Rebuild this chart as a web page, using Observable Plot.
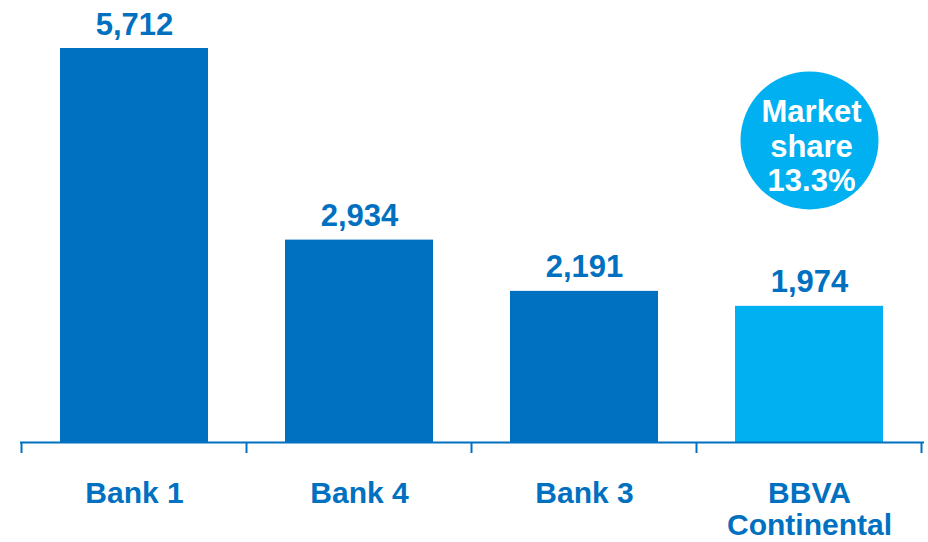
<!DOCTYPE html>
<html><head><meta charset="utf-8">
<script src="https://cdn.jsdelivr.net/npm/d3@7"></script>
<script src="https://cdn.jsdelivr.net/npm/@observablehq/plot@0.6"></script>
<style>body{margin:0;background:#fff}</style>
</head><body><div id="chart"></div>
<script>
const categories = ["Bank 1", "Bank 4", "Bank 3", "BBVA Continental"];
const values = [5712, 2934, 2191, 1974];
const tickLabels = ["Bank 1", "Bank 4", "Bank 3", "BBVA\nContinental"];
const highlight = [false, false, false, true];
const bubbleCategory = "BBVA Continental";
const bubbleValue = 4380;
const bubbleText = "Market\nshare\n13.3%";

const data = categories.map((c, i) => ({category: c, value: values[i], label: tickLabels[i], highlight: highlight[i]}));
const bubble = [{category: bubbleCategory, value: bubbleValue, text: bubbleText}];

const blue = "#0070C0", light = "#00B0F0";

const edgeTicks = (index, scales) => {
  const x = scales.x, y = scales.y;
  const starts = categories.map(c => x(c));
  const step = starts[1] - starts[0];
  const bw = x.bandwidth ? x.bandwidth() : step * 0.66;
  const off = (step - bw) / 2;
  const edges = starts.map(s => s - off).concat([starts[starts.length - 1] + bw + off]);
  const y0 = y(0);
  const g = d3.create("svg:g");
  g.selectAll("line").data(edges).join("line")
    .attr("x1", d => d).attr("x2", d => d)
    .attr("y1", y0).attr("y2", y0 + 11)
    .attr("stroke", blue).attr("stroke-width", 2);
  return g.node();
};

const chart = Plot.plot({
  width: 928, height: 542,
  marginLeft: 20, marginRight: 4, marginTop: 0, marginBottom: 0,
  style: {fontFamily: "'Liberation Sans', Arial, sans-serif", background: "#fff"},
  x: {domain: categories, range: [20, 923], paddingInner: 0.34, paddingOuter: 0.17, axis: null},
  y: {domain: [0, 5712], range: [442, 48], axis: null},
  color: {domain: [false, true], range: [blue, light]},
  marks: [
    Plot.barY(data, {x: "category", y: "value", fill: "highlight"}),
    Plot.ruleY([0], {stroke: blue, strokeWidth: 2}),
    edgeTicks,
    Plot.text(data, {x: "category", y: "value", text: d => d3.format(",")(d.value), lineAnchor: "bottom", dy: -14, fontSize: 31, fontWeight: "bold", fill: blue}),
    Plot.text(data, {x: "category", y: 0, text: "label", lineAnchor: "top", dy: 38, fontSize: 30, lineHeight: 1.06, fontWeight: "bold", fill: blue}),
    Plot.dot(bubble, {x: "category", y: "value", r: 69, fill: light, stroke: null}),
    Plot.text(bubble, {x: "category", y: "value", text: "text", lineAnchor: "middle", dy: 5, dx: 2, fontSize: 31, lineHeight: 1.12, fontWeight: "bold", fill: "white"})
  ]
});
document.getElementById("chart").appendChild(chart);
</script>
</body></html>
